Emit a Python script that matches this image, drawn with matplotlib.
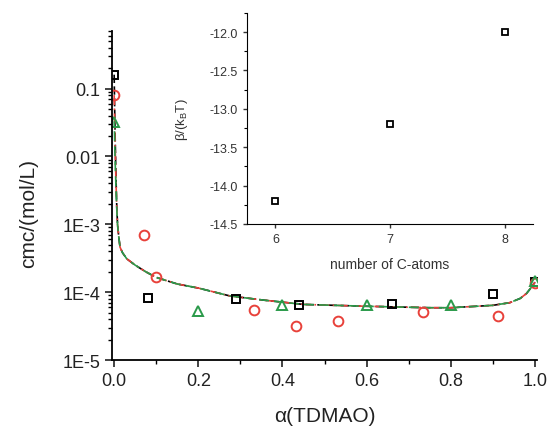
import matplotlib
matplotlib.use('Agg')
import matplotlib.pyplot as plt
from matplotlib.ticker import LogLocator, NullFormatter, MultipleLocator

plt.rcParams['font.family'] = ['Liberation Sans', 'DejaVu Sans']

# measured cmc values
sq_x = [0.0, 0.08, 0.29, 0.44, 0.66, 0.90, 1.0]
sq_y = [0.16, 8.1e-5, 7.8e-5, 6.5e-5, 6.7e-5, 9.3e-5, 1.4e-4]
circ_x = [0.0, 0.072, 0.10, 0.333, 0.433, 0.533, 0.733, 0.912, 1.0]
circ_y = [0.08, 7.0e-4, 1.65e-4, 5.4e-5, 3.2e-5, 3.7e-5, 5.1e-5, 4.4e-5, 1.35e-4]
tri_x = [0.0, 0.20, 0.40, 0.60, 0.80, 1.0]
tri_y = [0.032, 5.2e-5, 6.4e-5, 6.4e-5, 6.4e-5, 1.45e-4]

# fitted curves
curve_x = [0.0, 0.001, 0.002, 0.004, 0.006, 0.008, 0.011, 0.014, 0.02, 0.03, 0.05,
           0.075, 0.1, 0.15, 0.2, 0.275, 0.35, 0.45, 0.6, 0.75, 0.8, 0.9, 0.94,
           0.965, 0.98, 0.99, 1.0]
tail_y = [1e-3, 6.5e-4, 4.6e-4, 3.8e-4, 3.1e-4, 2.5e-4,
          2.0e-4, 1.65e-4, 1.32e-4, 1.15e-4, 8.8e-5, 7.7e-5, 6.6e-5, 6.2e-5, 5.9e-5,
          5.9e-5, 6.4e-5, 7.0e-5, 8.1e-5, 9.6e-5, 1.15e-4, 1.4e-4]
black_head = [0.16, 0.06, 0.025, 0.006, 0.002]
red_head = [0.08, 0.04, 0.018, 0.005, 0.0019]
green_head = [0.033, 0.02, 0.01, 0.004, 0.0018]

# inset: interaction parameter
n_c = [6, 7, 8]
beta = [-14.2, -13.2, -12.0]

red = '#e8413a'
green = '#2a9a4a'

fig = plt.figure(figsize=(5.52, 4.35), dpi=100)
ax = fig.add_axes([0.203, 0.170, 0.770, 0.756])

ax.plot(curve_x, black_head + tail_y, color='black', ls=(0, (5, 2)), lw=1.2)
ax.plot(curve_x, red_head + tail_y, color=red, ls=(0, (6, 2, 1, 2)), lw=1.2)
ax.plot(curve_x, green_head + tail_y, color=green, ls=(3, (6, 3)), lw=1.2)

ax.plot(sq_x, sq_y, 's', mfc='none', mec='black', ms=6, mew=1.4, ls='none')
ax.plot(circ_x, circ_y, 'o', mfc='none', mec=red, ms=7, mew=1.4, ls='none')
ax.plot(tri_x, tri_y, '^', mfc='none', mec=green, ms=7.5, mew=1.4, ls='none')

ax.set_yscale('log')
ax.set_xlim(-0.005, 1.005)
ax.set_ylim(1e-5, 0.7)
ax.set_yticks([1e-5, 1e-4, 1e-3, 1e-2, 1e-1])
ax.set_yticklabels(['1E-5', '1E-4', '1E-3', '0.01', '0.1'])
ax.yaxis.set_minor_locator(LogLocator(base=10, subs=range(2, 10)))
ax.yaxis.set_minor_formatter(NullFormatter())
ax.set_xticks([0.0, 0.2, 0.4, 0.6, 0.8, 1.0])
ax.set_xticklabels(['0.0', '0.2', '0.4', '0.6', '0.8', '1.0'])
ax.xaxis.set_minor_locator(MultipleLocator(0.1))
for s in ['top', 'right']:
    ax.spines[s].set_visible(False)
for s in ['left', 'bottom']:
    ax.spines[s].set_linewidth(1.3)
ax.tick_params(which='major', direction='out', length=5, width=1.2, labelsize=13, colors='#222222')
ax.tick_params(which='minor', direction='out', length=3, width=1.0)
ax.set_xlabel('α(TDMAO)', fontsize=15, color='#222222', labelpad=12)
ax.set_ylabel('cmc/(mol/L)', fontsize=15, color='#222222')
ax.yaxis.set_label_coords(-0.174, 0.45)

# inset
ins = fig.add_axes([0.447, 0.483, 0.519, 0.485])
ins.plot(n_c, beta, 's', mfc='none', mec='black', ms=5, mew=1.3, ls='none')
ins.set_xlim(5.75, 8.25)
ins.set_ylim(-14.5, -11.75)
ins.set_xticks([6, 7, 8])
ins.set_yticks([-14.5, -14.0, -13.5, -13.0, -12.5, -12.0])
ins.set_yticklabels(['-14.5', '-14.0', '-13.5', '-13.0', '-12.5', '-12.0'])
ins.yaxis.set_minor_locator(MultipleLocator(0.25))
for s in ['top', 'right']:
    ins.spines[s].set_visible(False)
ins.tick_params(which='major', direction='out', length=3, width=1.0, labelsize=9, colors='#333333')
ins.tick_params(which='minor', direction='out', length=2, width=0.8)
ins.set_xlabel('number of C-atoms', fontsize=10, color='#333333', labelpad=9)
ins.set_ylabel(r'β/(k$_\mathregular{B}$T)', fontsize=9.5, color='#333333', labelpad=14)

fig.savefig('out.png', dpi=100)
